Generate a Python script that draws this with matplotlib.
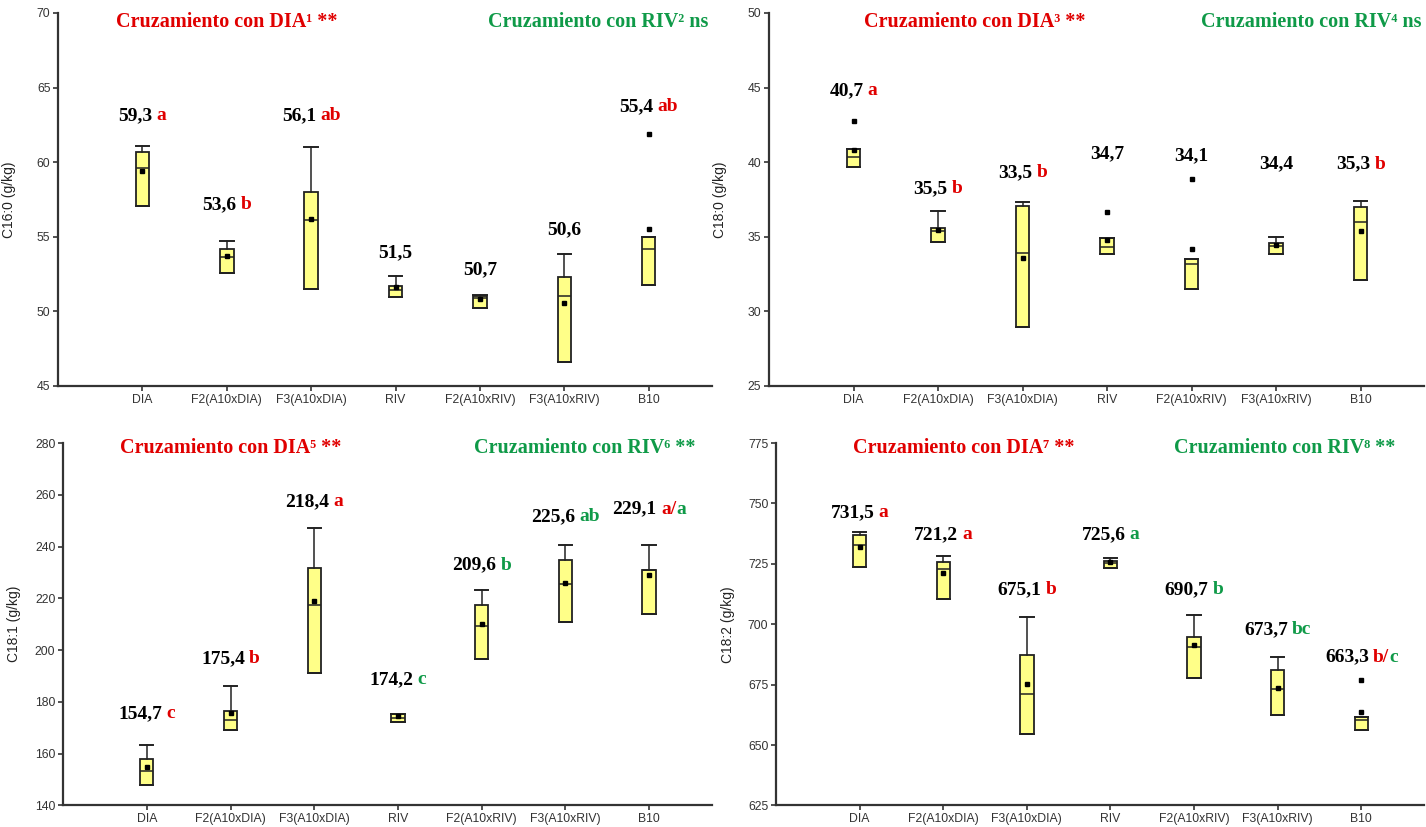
import matplotlib
matplotlib.use('Agg')
import matplotlib.pyplot as plt
from matplotlib.offsetbox import TextArea, HPacker, AnnotationBbox
import matplotlib.transforms as mtransforms

# categories (same for every panel)
categories = ['DIA', 'F2(A10xDIA)', 'F3(A10xDIA)', 'RIV', 'F2(A10xRIV)', 'F3(A10xRIV)', 'B10']

# --- C16:0 ---
c160_q1 = [57.08, 52.6, 51.5, 50.96, 50.2, 46.58, 51.76]
c160_med = [59.58, 53.66, 56.1, 51.43, 50.9, 51.0, 54.2]
c160_q3 = [60.65, 54.2, 57.99, 51.72, 51.0, 52.32, 54.98]
c160_wlo = [57.05, 52.6, 51.5, 50.96, 50.2, 46.58, 51.76]
c160_whi = [61.1, 54.71, 61.0, 52.37, 51.07, 53.82, 54.98]
c160_mean = [59.4, 53.7, 56.2, 51.6, 50.8, 50.56, 55.5]
c160_fliers = [[], [], [], [], [], [], [61.88]]
c160_text = ['59,3', '53,6', '56,1', '51,5', '50,7', '50,6', '55,4']
c160_red = ['a', 'b', 'ab', '', '', '', 'ab']
c160_green = ['', '', '', '', '', '', '']
c160_label_y = [63.1, 57.17, 63.1, 53.9, 52.8, 55.5, 63.7]

# --- C18:0 ---
c180_q1 = [39.65, 34.64, 28.94, 33.83, 31.53, 33.83, 32.1]
c180_med = [40.38, 35.38, 33.9, 34.32, 33.18, 34.35, 35.96]
c180_q3 = [40.88, 35.62, 37.03, 34.93, 33.52, 34.6, 37.0]
c180_wlo = [39.65, 34.64, 28.94, 33.83, 31.53, 33.83, 32.1]
c180_whi = [40.88, 36.74, 37.32, 34.93, 33.52, 35.0, 37.43]
c180_mean = [40.79, 35.47, 33.56, 34.8, 34.21, 34.48, 35.38]
c180_fliers = [[42.73], [], [], [36.67], [38.84], [], []]
c180_text = ['40,7', '35,5', '33,5', '34,7', '34,1', '34,4', '35,3']
c180_red = ['a', 'b', 'b', '', '', '', 'b']
c180_green = ['', '', '', '', '', '', '']
c180_label_y = [44.8, 38.24, 39.3, 40.54, 40.45, 39.87, 39.87]

# --- C18:1 ---
c181_q1 = [148.1, 169.1, 191.3, 172.1, 196.4, 211.0, 214.0]
c181_med = [153.4, 173.2, 217.5, 173.7, 209.3, 225.7, 231.1]
c181_q3 = [158.0, 176.5, 231.8, 175.5, 217.5, 234.7, 231.1]
c181_wlo = [148.1, 169.1, 191.3, 172.1, 196.4, 211.0, 214.0]
c181_whi = [163.4, 186.1, 247.1, 175.5, 223.4, 240.7, 240.7]
c181_mean = [154.7, 175.6, 218.8, 174.5, 210.0, 225.9, 229.1]
c181_fliers = [[], [], [], [], [], [], []]
c181_text = ['154,7', '175,4', '218,4', '174,2', '209,6', '225,6', '229,1']
c181_red = ['c', 'b', 'a', '', '', '', 'a/']
c181_green = ['', '', '', 'c', 'b', 'ab', 'a']
c181_label_y = [175.5, 196.8, 257.3, 188.6, 232.8, 251.6, 254.5]

# --- C18:2 ---
c182_q1 = [723.5, 710.6, 654.7, 723.4, 677.9, 662.4, 656.4]
c182_med = [732.6, 722.9, 671.3, 725.5, 690.5, 673.4, 660.3]
c182_q3 = [737.0, 725.9, 687.3, 726.2, 694.8, 681.0, 661.6]
c182_wlo = [723.5, 710.6, 654.7, 723.4, 677.9, 662.4, 656.4]
c182_whi = [738.0, 728.3, 703.0, 727.3, 703.7, 686.5, 661.6]
c182_mean = [731.8, 721.3, 675.4, 725.8, 691.4, 673.7, 663.5]
c182_fliers = [[], [], [], [], [], [], [676.9]]
c182_text = ['731,5', '721,2', '675,1', '725,6', '690,7', '673,7', '663,3']
c182_red = ['a', 'a', 'b', '', '', '', 'b/']
c182_green = ['', '', '', 'a', 'b', 'bc', 'c']
c182_label_y = [746.3, 737.2, 714.2, 737.2, 714.2, 697.7, 686.4]

RED = '#e00000'
GREEN = '#0f9a48'
SERIF = ['Liberation Serif', 'DejaVu Serif']
SANS = ['Liberation Sans', 'DejaVu Sans']


def draw_panel(ax, q1, med, q3, wlo, whi, mean, fliers, text, red, green, label_y,
               ylabel, ylim, yticks, dia_title, riv_title, title_x, title_y):
    stats = []
    for i in range(len(categories)):
        stats.append(dict(q1=q1[i], med=med[i], q3=q3[i], whislo=wlo[i], whishi=whi[i],
                          mean=mean[i], fliers=fliers[i]))
    ax.bxp(stats, positions=range(len(categories)), widths=0.16, capwidths=0.16,
           showmeans=True, patch_artist=True,
           boxprops=dict(facecolor='#ffff88', edgecolor='#222222', linewidth=1.3),
           medianprops=dict(color='#222222', linewidth=1.1),
           whiskerprops=dict(color='#222222', linewidth=1.1),
           capprops=dict(color='#222222', linewidth=1.4),
           meanprops=dict(marker='s', markerfacecolor='black', markeredgecolor='black', markersize=3.5),
           flierprops=dict(marker='s', markerfacecolor='black', markeredgecolor='black', markersize=3.5))

    ax.set_xlim(-1, 6.75)
    ax.set_ylim(*ylim)
    ax.set_yticks(yticks)
    ax.set_xticks(range(len(categories)))
    ax.set_xticklabels(categories)
    for lab in ax.get_xticklabels() + ax.get_yticklabels():
        lab.set_family(SANS)
        lab.set_fontsize(8.8)
        lab.set_color('#333333')
    ax.tick_params(direction='out', length=3.5, width=1.2, color='#333333', pad=2)
    ax.spines['top'].set_visible(False)
    ax.spines['right'].set_visible(False)
    for s in ['left', 'bottom']:
        ax.spines[s].set_linewidth(1.6)
        ax.spines[s].set_color('#333333')
    ax.set_ylabel(ylabel, family=SANS, fontsize=10, color='#222222')
    ax.yaxis.set_label_coords(-0.064, 0.5)

    # group means with significance letters
    for i in range(len(categories)):
        num = TextArea(text[i], textprops=dict(family=SERIF, fontweight='bold', fontsize=14, color='black'))
        letters = []
        if red[i]:
            letters.append(TextArea(red[i], textprops=dict(family=SERIF, fontweight='bold', fontsize=14, color=RED)))
        if green[i]:
            letters.append(TextArea(green[i], textprops=dict(family=SERIF, fontweight='bold', fontsize=14, color=GREEN)))
        if letters:
            inner = HPacker(children=letters, align='baseline', pad=0, sep=0)
            box = HPacker(children=[num, inner], align='baseline', pad=0, sep=3)
        else:
            box = num
        ab = AnnotationBbox(box, (i, label_y[i]), frameon=False, box_alignment=(0.5, 0.5),
                            annotation_clip=False)
        ax.add_artist(ab)

    trans = mtransforms.blended_transform_factory(ax.transData, ax.transAxes)
    ax.text(title_x[0], title_y, dia_title, transform=trans, ha='center', va='center',
            family=SERIF, fontweight='bold', fontsize=14.5, color=RED)
    ax.text(title_x[1], title_y, riv_title, transform=trans, ha='center', va='center',
            family=SERIF, fontweight='bold', fontsize=14.5, color=GREEN)


fig = plt.figure(figsize=(14.26, 8.27), dpi=100)
ax1 = fig.add_axes([0.0407, 0.5333, 0.4586, 0.4510])
ax2 = fig.add_axes([0.5393, 0.5333, 0.4593, 0.4510])
ax3 = fig.add_axes([0.0442, 0.0260, 0.4551, 0.4383])
ax4 = fig.add_axes([0.5442, 0.0260, 0.4544, 0.4383])

draw_panel(ax1, c160_q1, c160_med, c160_q3, c160_wlo, c160_whi, c160_mean, c160_fliers,
           c160_text, c160_red, c160_green, c160_label_y,
           'C16:0 (g/kg)', (45, 70), range(45, 71, 5),
           'Cruzamiento con DIA¹ **', 'Cruzamiento con RIV² ns', (1.0, 5.4), 0.976)
draw_panel(ax2, c180_q1, c180_med, c180_q3, c180_wlo, c180_whi, c180_mean, c180_fliers,
           c180_text, c180_red, c180_green, c180_label_y,
           'C18:0 (g/kg)', (25, 50), range(25, 51, 5),
           'Cruzamiento con DIA³ **', 'Cruzamiento con RIV⁴ ns', (1.43, 5.42), 0.976)
draw_panel(ax3, c181_q1, c181_med, c181_q3, c181_wlo, c181_whi, c181_mean, c181_fliers,
           c181_text, c181_red, c181_green, c181_label_y,
           'C18:1 (g/kg)', (140, 280), range(140, 281, 20),
           'Cruzamiento con DIA⁵ **', 'Cruzamiento con RIV⁶ **', (1.0, 5.23), 0.986)
draw_panel(ax4, c182_q1, c182_med, c182_q3, c182_wlo, c182_whi, c182_mean, c182_fliers,
           c182_text, c182_red, c182_green, c182_label_y,
           'C18:2 (g/kg)', (625, 775), range(625, 776, 25),
           'Cruzamiento con DIA⁷ **', 'Cruzamiento con RIV⁸ **', (1.25, 5.08), 0.986)

fig.savefig('out.png', dpi=100)
